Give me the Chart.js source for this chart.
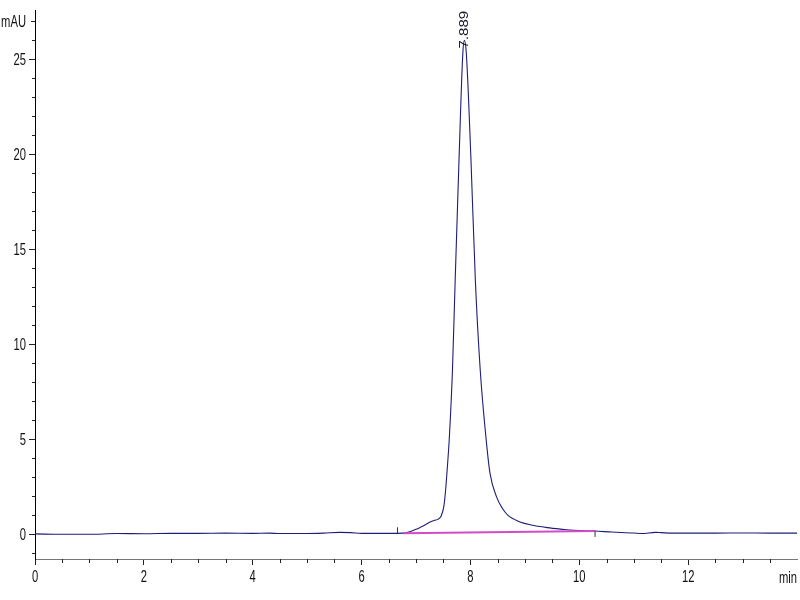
<!DOCTYPE html>
<html>
<head>
<meta charset="utf-8">
<script src="https://cdn.jsdelivr.net/npm/chart.js@4.4.1/dist/chart.umd.min.js"></script>
<style>
html,body{margin:0;padding:0;background:#fff;}
#wrap{width:800px;height:600px;}
</style>
</head>
<body>
<div id="wrap"><canvas id="c" width="800" height="600"></canvas></div>
<script>
// ---- data ----
const times = [0, 0.5, 1.0, 1.5, 2.0, 2.5, 3.0, 3.5, 4.0, 4.3, 4.5, 5.0, 5.3, 5.6, 5.8, 6.0, 6.5, 6.77,
  6.9, 7.0, 7.08, 7.18, 7.26, 7.34, 7.41, 7.46, 7.51, 7.54, 7.57, 7.61, 7.67, 7.72, 7.79, 7.86, 7.889,
  7.925, 8.01, 8.09, 8.18, 8.29, 8.36, 8.48, 8.58, 8.69, 8.8, 8.91, 9.1, 9.41, 9.7, 9.9, 10.29,
  10.6, 11.0, 11.15, 11.4, 11.5, 11.7, 12.0, 12.5, 13.0, 13.5, 14.0];
const signal = [0.02, 0.0, 0.0, 0.04, 0.03, 0.05, 0.05, 0.06, 0.05, 0.06, 0.04, 0.04, 0.06, 0.1, 0.09, 0.05, 0.05, 0.06,
  0.15, 0.26, 0.37, 0.52, 0.65, 0.74, 0.8, 0.95, 1.44, 2.2, 3.3, 4.96, 8.65, 13.4, 19.7, 25.3, 26.0,
  25.3, 19.7, 13.4, 8.65, 4.96, 3.21, 1.97, 1.4, 1.0, 0.8, 0.65, 0.5, 0.35, 0.26, 0.21, 0.17,
  0.12, 0.07, 0.04, 0.1, 0.09, 0.06, 0.06, 0.06, 0.07, 0.06, 0.06];
const baselineTimes = [6.77, 10.29];
const baselineValues = [0.06, 0.17];
const dropTimes = [6.66, 10.29];
const dropLow = [0.05, -0.14];
const dropHigh = [0.37, 0.17];
const peakTimes = [7.889];
const peakValues = [26.0];
const peakLabels = ['7.889'];
const yTickValues = [-1,0,1,2,3,4,5,6,7,8,9,10,11,12,13,14,15,16,17,18,19,20,21,22,23,24,25,26,27];
const yLabelValues = [0,5,10,15,20,25];
const yUnitValue = 27;
const yUnit = 'mAU';
const xTickValues = [0,0.5,1,1.5,2,2.5,3,3.5,4,4.5,5,5.5,6,6.5,7,7.5,8,8.5,9,9.5,10,10.5,11,11.5,12,12.5,13,13.5];
const xLabelValues = [0,2,4,6,8,10,12];
const xUnit = 'min';

const FONT = "16px 'Liberation Sans', Arial, sans-serif";
const SQUEEZE = 0.7;

const traceData = times.map((t, i) => ({x: t, y: signal[i]}));
const baseData = baselineTimes.map((t, i) => ({x: t, y: baselineValues[i]}));
const dropSets = dropTimes.map((t, i) => ({
  data: [{x: t, y: dropLow[i]}, {x: t, y: dropHigh[i]}],
  borderColor: '#333', borderWidth: 1, pointRadius: 0, showLine: true, order: 0
}));

function squeezedText(ctx, str, x, y, align) {
  ctx.save();
  ctx.translate(x, y);
  ctx.scale(SQUEEZE, 1);
  ctx.textAlign = align;
  ctx.textBaseline = 'middle';
  ctx.fillText(str, 0, 0);
  ctx.restore();
}

const extras = {
  id: 'extras',
  afterDraw(chart) {
    const ctx = chart.ctx;
    const xs = chart.scales.x, ys = chart.scales.y;
    ctx.save();
    // minor ticks
    ctx.strokeStyle = '#222';
    ctx.lineWidth = 1;
    ctx.beginPath();
    yTickValues.forEach(v => {
      if (yLabelValues.includes(v)) return;
      const p = Math.round(ys.getPixelForValue(v)) + 0.5;
      const len = (v === yUnitValue) ? 4 : 3;
      ctx.moveTo(xs.left - len, p); ctx.lineTo(xs.left, p);
    });
    xTickValues.forEach(v => {
      if (xLabelValues.includes(v)) return;
      const p = Math.round(xs.getPixelForValue(v)) + 0.5;
      ctx.moveTo(p, ys.bottom); ctx.lineTo(p, ys.bottom + 4);
    });
    ctx.stroke();
    // tick labels
    ctx.fillStyle = '#111';
    ctx.font = FONT;
    yLabelValues.forEach(v => squeezedText(ctx, String(v), xs.left - 9, ys.getPixelForValue(v) + 1, 'right'));
    squeezedText(ctx, yUnit, xs.left - 9, ys.getPixelForValue(yUnitValue) + 1, 'right');
    xLabelValues.forEach(v => squeezedText(ctx, String(v), xs.getPixelForValue(v), ys.bottom + 19, 'center'));
    squeezedText(ctx, xUnit, xs.right, ys.bottom + 20, 'right');
    // peak labels
    peakTimes.forEach((t, i) => {
      const px = xs.getPixelForValue(t);
      const py = ys.getPixelForValue(peakValues[i]);
      ctx.save();
      ctx.translate(px + 0.5, py + 8);
      ctx.rotate(-Math.PI / 2);
      ctx.scale(1, 0.85);
      ctx.textAlign = 'left';
      ctx.textBaseline = 'middle';
      ctx.fillStyle = '#1a1a2a';
      ctx.font = "15px 'Liberation Sans', Arial, sans-serif";
      ctx.fillText(peakLabels[i], 0, 0);
      ctx.restore();
    });
    ctx.restore();
  }
};

new Chart(document.getElementById('c'), {
  type: 'scatter',
  data: {
    datasets: [
      {data: traceData, showLine: true, borderColor: '#1e1e78', borderWidth: 1.1, pointRadius: 0,
       cubicInterpolationMode: 'monotone', order: 2},
      {data: baseData, showLine: true, borderColor: '#d24cc8', borderWidth: 2, pointRadius: 0, order: 1},
      ...dropSets
    ]
  },
  options: {
    responsive: false,
    animation: false,
    devicePixelRatio: 1,
    layout: {padding: {top: 10, right: 3, left: 0, bottom: 0}},
    plugins: {legend: {display: false}, tooltip: {enabled: false}},
    scales: {
      x: {
        type: 'linear', min: 0, max: 14,
        afterBuildTicks: s => { s.ticks = xLabelValues.map(v => ({value: v})); },
        afterFit: s => { s.height = 41; },
        border: {display: true, color: '#777', width: 1},
        grid: {drawOnChartArea: false, drawTicks: true, tickLength: 6, color: '#222'},
        ticks: {display: false}
      },
      y: {
        type: 'linear', min: -1.3, max: 27.6,
        afterBuildTicks: s => { s.ticks = yLabelValues.map(v => ({value: v})); },
        afterFit: s => { s.width = 35; },
        border: {display: true, color: '#000', width: 1},
        grid: {drawOnChartArea: false, drawTicks: true, tickLength: 6, color: '#222'},
        ticks: {display: false}
      }
    }
  },
  plugins: [extras]
});
</script>
</body>
</html>
